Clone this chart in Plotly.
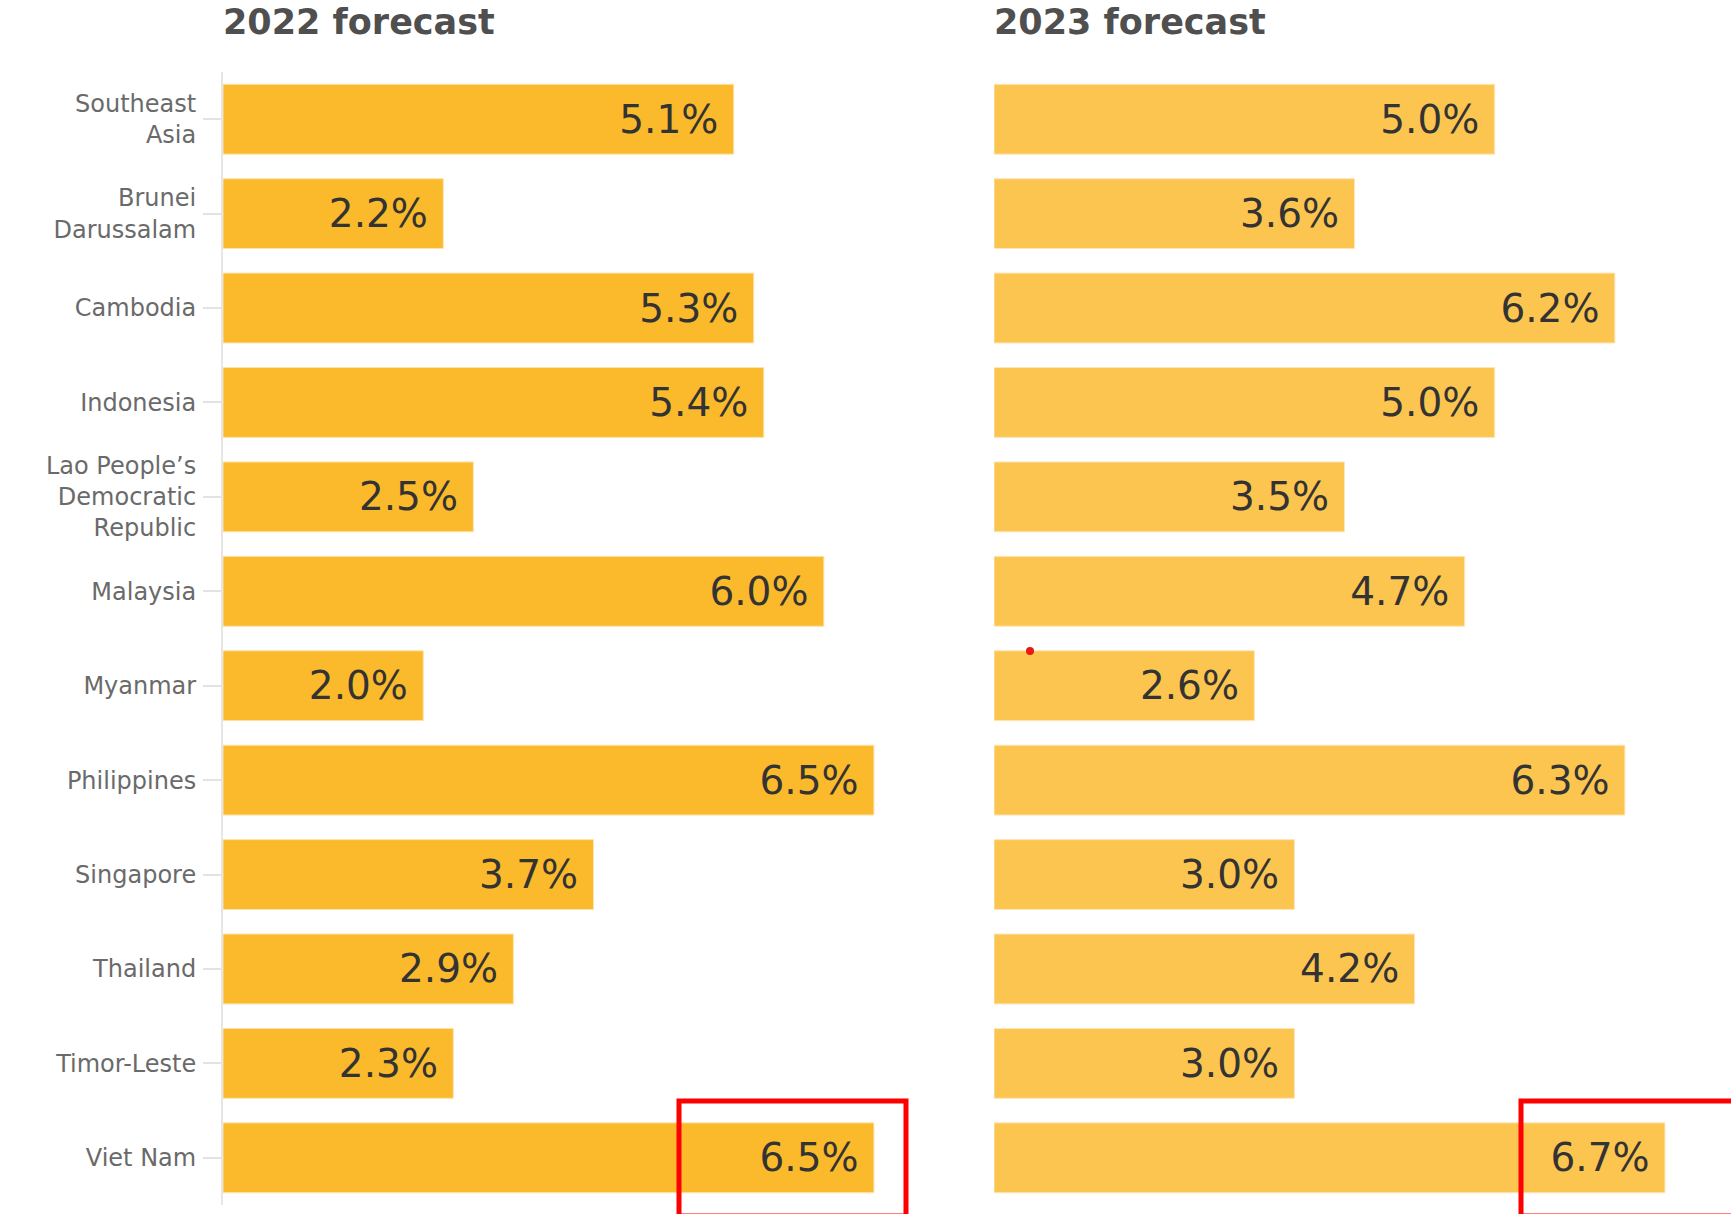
import plotly.graph_objects as go

categories = ["Southeast<br>Asia", "Brunei<br>Darussalam", "Cambodia", "Indonesia",
              "Lao People’s<br>Democratic<br>Republic", "Malaysia", "Myanmar",
              "Philippines", "Singapore", "Thailand", "Timor-Leste", "Viet Nam"]
forecast_2022 = [5.1, 2.2, 5.3, 5.4, 2.5, 6.0, 2.0, 6.5, 3.7, 2.9, 2.3, 6.5]
forecast_2023 = [5.0, 3.6, 6.2, 5.0, 3.5, 4.7, 2.6, 6.3, 3.0, 4.2, 3.0, 6.7]
panel_titles = ["2022 forecast", "2023 forecast"]

W, H = 1731, 1214
ML, MR, MT, MB = 223, 36, 72, 9
GAP = 70
plot_w = W - ML - MR
plot_h = H - MT - MB
panel_w = (plot_w - GAP) / 2
d1 = [0, panel_w / plot_w]
d2 = [(panel_w + GAP) / plot_w, 1]

NB = "\u00a0"
fig = go.Figure()
fig.add_trace(go.Bar(
    y=categories, x=forecast_2022, orientation="h",
    marker=dict(color="#FBBA2B", line=dict(color="#FDE3AE", width=1)),
    text=[f"{v:.1f}%{NB}" for v in forecast_2022],
    textposition="inside", insidetextanchor="end",
    textfont=dict(family="DejaVu Sans", size=39, color="#333333"),
    xaxis="x", yaxis="y", hoverinfo="skip", showlegend=False,
))
fig.add_trace(go.Bar(
    y=categories, x=forecast_2023, orientation="h",
    marker=dict(color="#FCC550", line=dict(color="#FDE6B8", width=1)),
    text=[f"{v:.1f}%{NB}" for v in forecast_2023],
    textposition="inside", insidetextanchor="end",
    textfont=dict(family="DejaVu Sans", size=39, color="#333333"),
    xaxis="x2", yaxis="y2", hoverinfo="skip", showlegend=False,
))

xcommon = dict(range=[0, 7], showgrid=False, zeroline=False, showticklabels=False,
               ticks="", showline=False, fixedrange=True)
fig.update_layout(
    width=W, height=H,
    margin=dict(l=ML, r=MR, t=MT, b=MB, pad=0),
    paper_bgcolor="white", plot_bgcolor="white",
    bargap=0.26,
    font=dict(family="DejaVu Sans", color="#666666"),
    xaxis=dict(domain=d1, anchor="y", **xcommon),
    xaxis2=dict(domain=d2, anchor="y2", **xcommon),
    yaxis=dict(anchor="x", autorange="reversed", showgrid=False, zeroline=False,
               showline=True, linecolor="#E6E6E6", linewidth=2,
               ticks="outside", ticklen=18, tickcolor="#E3E3E3", tickwidth=2,
               ticklabelstandoff=2,
               tickfont=dict(family="DejaVu Sans", size=24, color="#6A6A6A")),
    yaxis2=dict(anchor="x2", autorange="reversed", showgrid=False, zeroline=False,
                showline=False, showticklabels=False, ticks="", matches="y"),
)

for t, ax in zip(panel_titles, ["x", "x2"]):
    fig.add_annotation(
        text=f"<b>{t}</b>", xref=f"{ax} domain", yref="paper",
        x=-0.003, y=1 + (MT - 22) / plot_h, xanchor="left", yanchor="middle",
        showarrow=False, font=dict(family="DejaVu Sans", size=35, color="#4F4F4F"),
    )

def px_x(p):
    return (p - ML) / plot_w

def px_y(p):
    return (H - MB - p) / plot_h

# red highlight boxes around the Viet Nam values (page overlay)
red = dict(color="#FF0000", width=5)
fig.add_shape(type="rect", xref="paper", yref="paper",
              x0=px_x(679), x1=px_x(906), y0=px_y(1101), y1=px_y(1216),
              line=red, fillcolor="rgba(0,0,0,0)")
fig.add_shape(type="rect", xref="paper", yref="paper",
              x0=px_x(1521), x1=px_x(1740), y0=px_y(1101), y1=px_y(1216),
              line=red, fillcolor="rgba(0,0,0,0)")
# small red dot
fig.add_shape(type="circle", xref="paper", yref="paper",
              x0=px_x(1026), x1=px_x(1034), y0=px_y(655), y1=px_y(647),
              line=dict(color="#E81818", width=0), fillcolor="#E81818")

fig.write_html("out.html", config={"displayModeBar": False},
               post_script="document.body.style.margin='0';")
